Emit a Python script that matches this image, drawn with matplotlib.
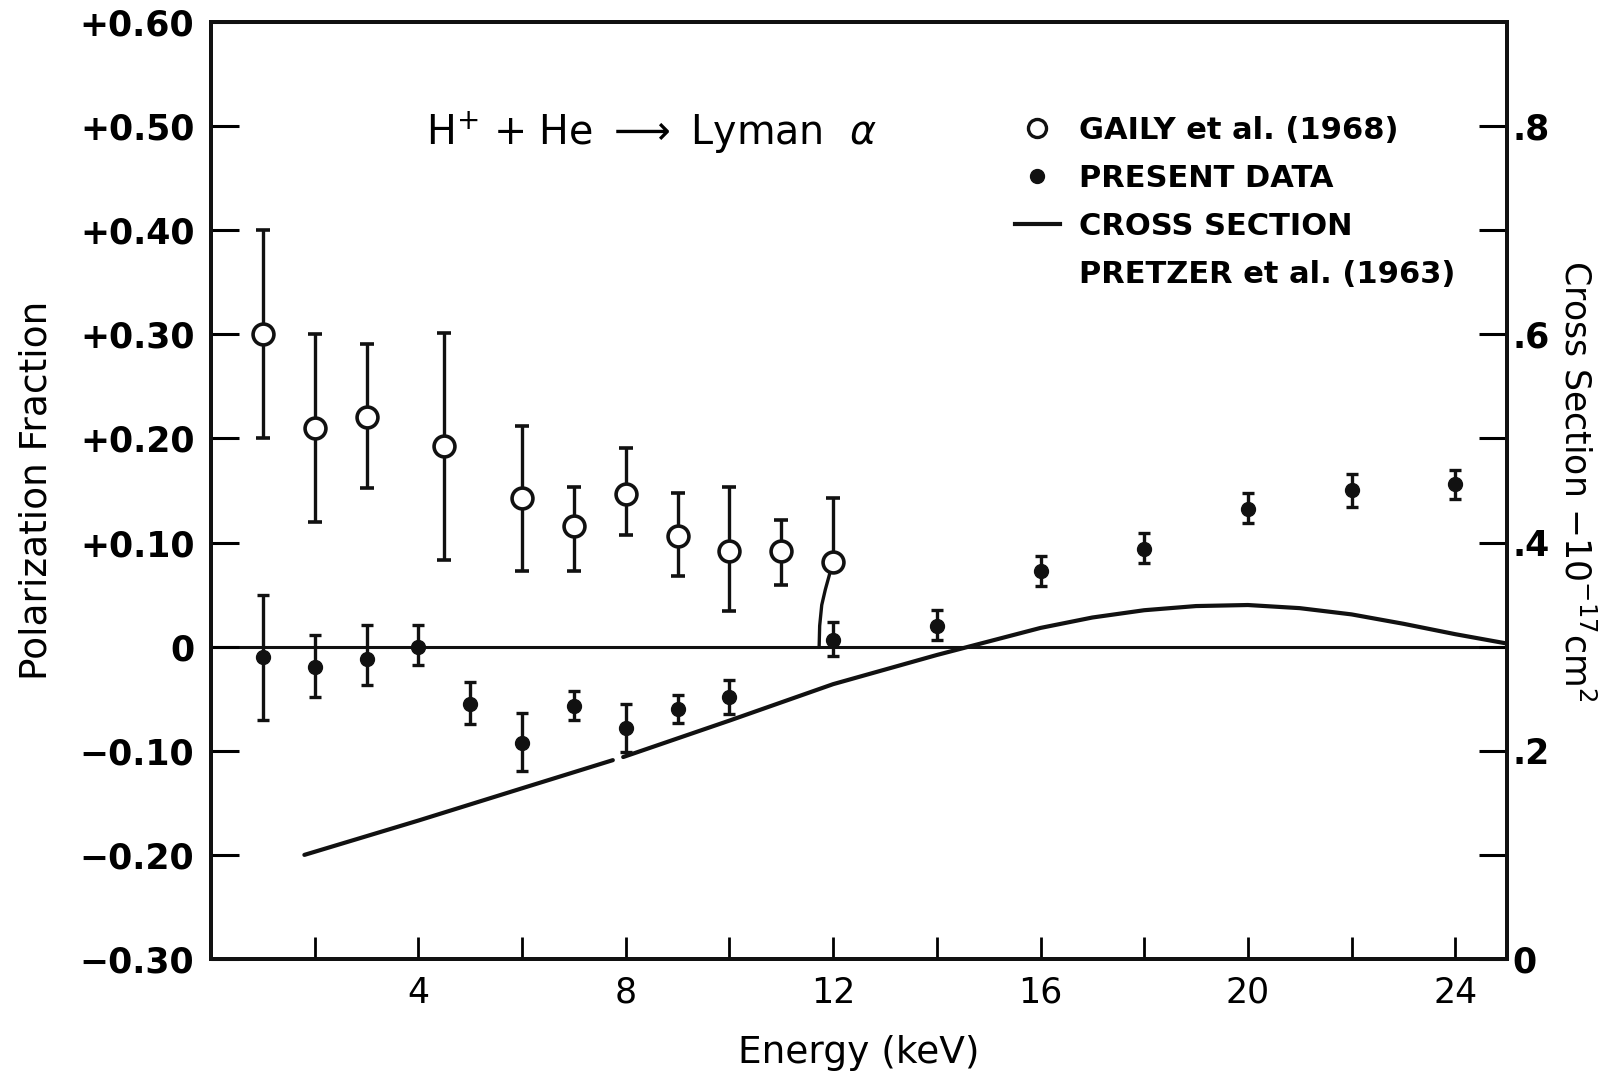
import numpy as np
import matplotlib
matplotlib.use("Agg")
import matplotlib.pyplot as plt
from matplotlib.lines import Line2D

# ---- data ----
# Gaily et al. (1968) - open circles
gaily_E = [1, 2, 3, 4.5, 6, 7, 8, 9, 10, 11, 12]
gaily_P = [0.300, 0.210, 0.221, 0.193, 0.143, 0.116, 0.147, 0.106, 0.092, 0.092, 0.081]
gaily_hi = [0.400, 0.300, 0.291, 0.301, 0.212, 0.153, 0.191, 0.148, 0.153, 0.122, 0.143]
gaily_lo = [0.200, 0.120, 0.152, 0.083, 0.073, 0.073, 0.107, 0.068, 0.034, 0.059, 0.081]

# Present data - filled circles
pres_E = [1, 2, 3, 4, 5, 6, 7, 8, 9, 10, 12, 14, 16, 18, 20, 22, 24]
pres_P = [-0.010, -0.020, -0.012, 0.000, -0.055, -0.093, -0.057, -0.078, -0.060,
          -0.048, 0.006, 0.020, 0.073, 0.094, 0.132, 0.150, 0.156]
pres_hi = [0.050, 0.011, 0.021, 0.021, -0.034, -0.064, -0.043, -0.055, -0.046,
           -0.032, 0.024, 0.035, 0.087, 0.109, 0.148, 0.166, 0.170]
pres_lo = [-0.070, -0.048, -0.037, -0.018, -0.074, -0.119, -0.070, -0.101, -0.073,
           -0.065, -0.009, 0.006, 0.058, 0.080, 0.119, 0.134, 0.142]

# Cross section, Pretzer et al. (1963), units 1e-17 cm^2 (right axis)
cs_E = [1.8, 4, 6, 7.75, np.nan, 7.95, 10, 12, 13, 14, 15, 16, 17, 18, 19, 20,
        21, 22, 23, 24, 25]
cs_val = [0.100, 0.133, 0.164, 0.191, np.nan, 0.194, 0.229, 0.264, 0.278, 0.292,
          0.305, 0.318, 0.328, 0.335, 0.339, 0.340, 0.337, 0.331, 0.322, 0.312, 0.303]

# wobbly lower bar below the 12 keV open circle
stray_E = [11.95, 11.85, 11.78, 11.74, 11.73]
stray_P = [0.073, 0.055, 0.040, 0.020, 0.000]

left_ticks = [-0.30, -0.20, -0.10, 0.0, 0.10, 0.20, 0.30, 0.40, 0.50, 0.60]
left_labels = ["\u22120.30", "\u22120.20", "\u22120.10", "0", "+0.10", "+0.20",
               "+0.30", "+0.40", "+0.50", "+0.60"]
x_major = [4, 8, 12, 16, 20, 24]
x_minor = [2, 6, 10, 14, 18, 22]
right_major = [0, 0.2, 0.4, 0.6, 0.8]
right_labels = ["0", ".2", ".4", ".6", ".8"]
right_minor = [0.1, 0.3, 0.5, 0.7]

# ---- figure ----
plt.rcParams['font.family'] = ['DejaVu Sans']
K = '#111111'
fig = plt.figure(figsize=(15.99, 10.72), dpi=100)
ax = fig.add_axes([0.132, 0.1054, 0.8105, 0.8741])
ax2 = ax.twinx()

ax.set_xlim(0, 25)
ax.set_ylim(-0.30, 0.60)
ax2.set_ylim(0, 0.90)

# zero line
ax.axhline(0, color=K, lw=2.2, zorder=1)

# cross-section curve
ax2.plot(cs_E, cs_val, color=K, lw=3.0, solid_capstyle='round', zorder=2)

# open circles
g_P = np.array(gaily_P)
ax.errorbar(gaily_E, g_P,
            yerr=[g_P - np.array(gaily_lo), np.array(gaily_hi) - g_P],
            fmt='o', ms=15, mfc='white', mec=K, mew=2.6, ecolor=K, elinewidth=2.4,
            capsize=5, capthick=2.4, zorder=4)
ax.plot(stray_E, stray_P, color=K, lw=2.4, zorder=3)

# filled circles
p_P = np.array(pres_P)
ax.errorbar(pres_E, p_P,
            yerr=[p_P - np.array(pres_lo), np.array(pres_hi) - p_P],
            fmt='o', ms=10, mfc=K, mec=K, ecolor=K, elinewidth=2.4,
            capsize=4, capthick=2.4, zorder=4)

# axes styling
ax.set_yticks(left_ticks)
ax.set_yticklabels(left_labels)
ax.set_xticks(x_major)
ax.set_xticks(x_minor, minor=True)
ax.tick_params(axis='y', which='both', direction='in', length=20, width=2.2,
               labelsize=25, pad=12)
ax.tick_params(axis='x', which='both', direction='in', length=16, width=2.0,
               labelsize=25, pad=12)
for lab in ax.get_yticklabels():
    lab.set_fontweight('bold')

ax2.set_yticks(right_major)
ax2.set_yticklabels(right_labels)
ax2.set_yticks(right_minor, minor=True)
ax2.tick_params(axis='y', which='both', direction='in', length=20, width=2.2,
                labelsize=25, pad=4)
for lab in ax2.get_yticklabels():
    lab.set_fontweight('bold')

for a in (ax, ax2):
    for s in a.spines.values():
        s.set_linewidth(2.8)
        s.set_color(K)

ax.set_xlabel("Energy (keV)", fontsize=27, labelpad=18)
ax.set_ylabel("Polarization Fraction", fontsize=27, labelpad=18)
ax2.set_ylabel(r"Cross Section $-$10$^{-17}$cm$^{2}$", fontsize=25,
               rotation=-90, ha='center', va='center')
ax2.yaxis.set_label_coords(1.053, 0.51)

ax.text(0.166, 0.8815, r"H$^{+}$ + He $\longrightarrow$ Lyman  $\alpha$",
        transform=ax.transAxes, fontsize=28.5, va='center', ha='left')

handles = [
    Line2D([], [], ls='none', marker='o', ms=13, mfc='white', mec=K, mew=2.4),
    Line2D([], [], ls='none', marker='o', ms=10, mfc=K, mec=K),
    Line2D([], [], color=K, lw=3),
    Line2D([], [], ls='none'),
]
labels = ["GAILY et al. (1968)", "PRESENT DATA", "CROSS SECTION",
          "PRETZER et al. (1963)"]
ax.legend(handles, labels, loc='upper left', bbox_to_anchor=(0.62, 0.90),
          frameon=False, prop={'weight': 'bold', 'size': 22},
          handlelength=1.5, handletextpad=0.6, labelspacing=0.62,
          borderpad=0, borderaxespad=0)

fig.savefig("out.png", dpi=100, facecolor='white')
